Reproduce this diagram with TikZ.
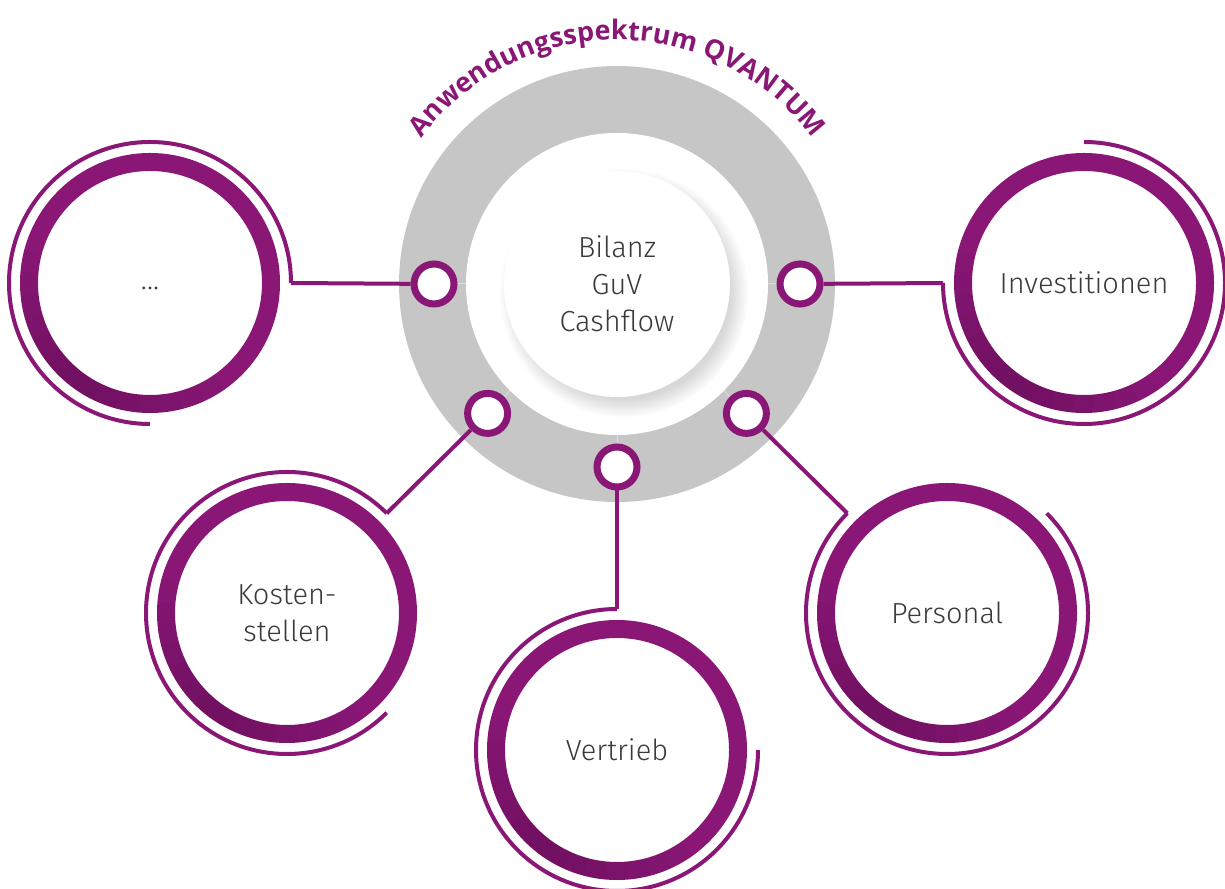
\documentclass[tikz,border=0pt]{standalone}
\usepackage{fontspec}
\setmainfont{Fira Sans Light}
\newfontfamily\titlefont{Open Sans}
\usetikzlibrary{calc,shadows,decorations.text}

\definecolor{qpurple}{RGB}{138,23,118}
\definecolor{ringgray}{RGB}{198,198,198}
\definecolor{txtgray}{RGB}{58,58,58}

\tikzset{
  topic/.style={circle, draw=qpurple, line width=18pt, minimum size=242pt,
    align=center, text=txtgray, font=\fontsize{29}{37}\selectfont},
  dock/.style={circle, draw=qpurple, line width=7pt, fill=white,
    minimum size=40pt, inner sep=0pt},
  swoosh/.style={draw=qpurple, line width=4pt},
  link/.style={draw=qpurple, line width=4pt}
}

\begin{document}
\begin{tikzpicture}[x=1pt,y=1pt]
  \useasboundingbox (0,0) rectangle (1225,888);
  \coordinate (hub) at (617,604);

  \fill[ringgray] (hub) circle [radius=218];
  \fill[white] (hub) circle [radius=151];
  \foreach \a in {0,180,225,270,315} {
    \draw[white, opacity=0.4, line width=1pt] ($(hub)+(\a:151)$) -- ($(hub)+(\a:183)$);
  }
  \node[circle, fill=white, minimum size=226pt, text=txtgray, align=center,
    font=\fontsize{29}{37}\selectfont,
    circular drop shadow={shadow xshift=6pt, shadow yshift=-8pt, opacity=0.3}]
    (core) at (hub) {Bilanz\\GuV\\Cashflow};

  \path[decorate, decoration={text along path, text align=center,
    text={|\titlefont\bfseries\fontsize{27}{27}\selectfont\color{qpurple}|Anwendungsspektrum QVANTUM}}]
    ($(hub)+(180:244)$) arc [start angle=180, end angle=0, radius=244];

  \foreach \a/\n in {180/w,0/e,225/sw,270/s,315/se}
    \node[dock] (dock-\n) at ($(hub)+(\a:183)$) {};

  \node[topic] (dots) at (150,605) {\vphantom{Kg}...};
  \node[topic] (invest) at (1084,605) {Investitionen};
  \node[topic] (kosten) at (287,275) {Kosten-\\stellen};
  \node[topic] (vertrieb) at (617,138) {Vertrieb};
  \node[topic] (personal) at (947,275) {Personal};

  \foreach \n in {dots,invest,kosten,vertrieb,personal}
    \foreach \w in {10,20,...,70}
      \draw[black, opacity=0.025, line width=18pt]
        ($(\n)+(235-\w:121)$) arc [start angle=235-\w, end angle=235+\w, radius=121];

  \foreach \n/\s/\e in {dots/0/270, invest/180/450, kosten/45/315, vertrieb/90/360, personal/135/405} {
    \coordinate (\n-end) at ($(\n)+(\s:141)$);
    \draw[swoosh] (\n-end) arc [start angle=\s, end angle=\e, radius=141];
  }

  \draw[link] (dots-end) -- (dock-w);
  \draw[link] (invest-end) -- (dock-e);
  \draw[link] (kosten-end) -- (dock-sw);
  \draw[link] (vertrieb-end) -- (dock-s);
  \draw[link] (personal-end) -- (dock-se);
\end{tikzpicture}
\end{document}
